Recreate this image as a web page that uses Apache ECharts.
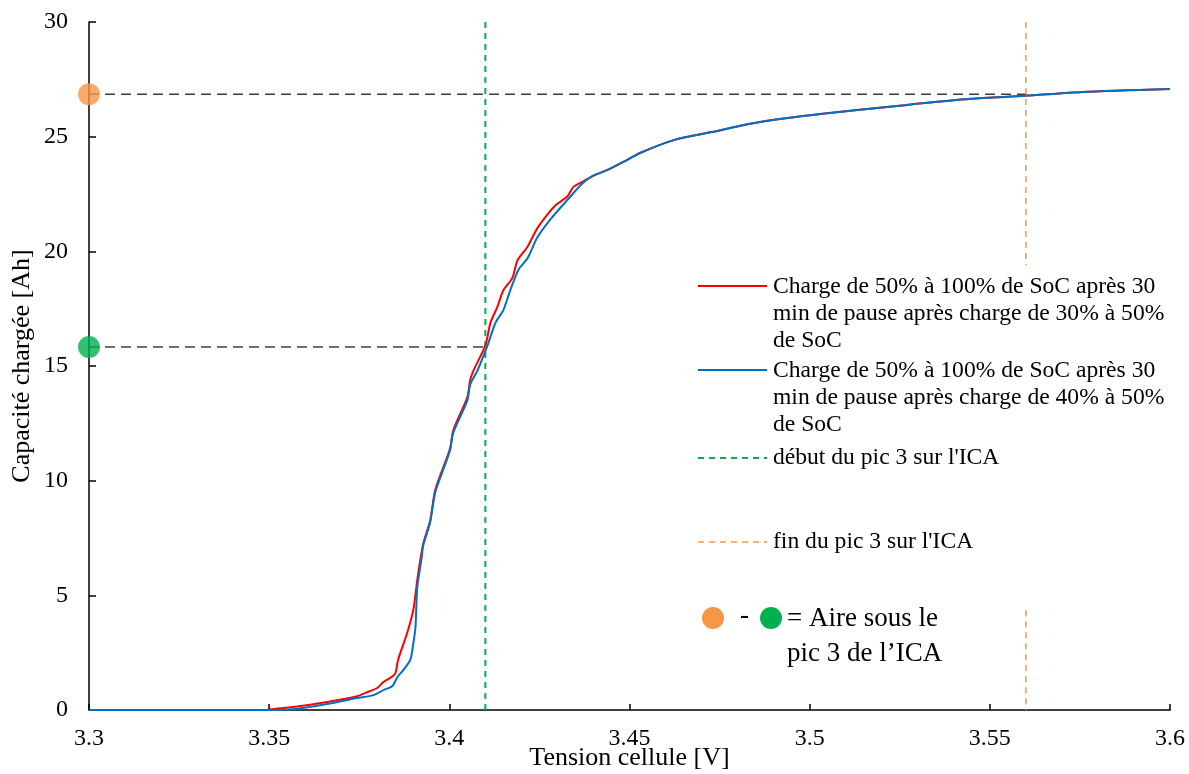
<!DOCTYPE html>
<html>
<head>
<meta charset="utf-8">
<script src="https://cdn.jsdelivr.net/npm/echarts@6/dist/echarts.min.js"></script>
<style>html,body{margin:0;padding:0;background:#fff}#c{width:1189px;height:774px}</style>
</head>
<body>
<div id="c"></div>
<script>
// Data
const redV = [3.3, 3.35, 3.3503, 3.3567, 3.3661, 3.3744, 3.3772, 3.38, 3.3817, 3.3836, 3.385, 3.3858, 3.3883, 3.39, 3.3911, 3.3919, 3.3928, 3.3947, 3.3961, 3.3994, 3.4003, 3.4011, 3.405, 3.4058, 3.4067, 3.41, 3.4114, 3.4133, 3.415, 3.4175, 3.4189, 3.4217, 3.4244, 3.4272, 3.4294, 3.4328, 3.4344, 3.4372, 3.44, 3.4439, 3.4483, 3.4531, 3.4625, 3.4728, 3.4831, 3.4933, 3.5036, 3.5242, 3.5447, 3.5597, 3.5756, 3.6];
const redQ = [0, 0, 0.03, 0.13, 0.35, 0.6, 0.78, 0.96, 1.22, 1.4, 1.6, 2.2, 3.36, 4.36, 5.67, 6.5, 7.28, 8.28, 9.6, 11.03, 11.47, 12.2, 13.65, 14.4, 14.8, 15.9, 16.88, 17.57, 18.3, 18.84, 19.6, 20.2, 21.0, 21.6, 22.0, 22.4, 22.8, 23.05, 23.3, 23.55, 23.9, 24.3, 24.86, 25.2, 25.55, 25.8, 26.0, 26.34, 26.65, 26.78, 26.95, 27.08];
const blueV = [3.3, 3.35, 3.3567, 3.3661, 3.3744, 3.3789, 3.3817, 3.3842, 3.3856, 3.3872, 3.3892, 3.39, 3.3906, 3.3911, 3.3922, 3.3928, 3.3947, 3.3961, 3.3994, 3.4003, 3.4011, 3.405, 3.4058, 3.4078, 3.4106, 3.4128, 3.415, 3.4169, 3.4192, 3.4217, 3.4244, 3.4281, 3.4328, 3.4372, 3.44, 3.4439, 3.4483, 3.4531, 3.4625, 3.4728, 3.4831, 3.4933, 3.5036, 3.5242, 3.5447, 3.5597, 3.5756, 3.6];
const blueQ = [0, 0, 0.03, 0.26, 0.52, 0.65, 0.87, 1.05, 1.44, 1.74, 2.2, 2.9, 3.6, 5.36, 6.5, 7.2, 8.2, 9.5, 10.95, 11.4, 12.1, 13.5, 14.2, 14.8, 15.9, 16.88, 17.44, 18.3, 19.2, 19.7, 20.6, 21.4, 22.25, 23.0, 23.3, 23.55, 23.9, 24.3, 24.86, 25.2, 25.55, 25.8, 26.0, 26.34, 26.65, 26.78, 26.95, 27.08];
const vStart = 3.41;   // début du pic 3
const vEnd = 3.56;     // fin du pic 3
const qStart = 15.83;  // capacité au début du pic
const qEnd = 26.85;    // capacité à la fin du pic
const orangeGapTop = 19.4, orangeGapBottom = 4.35;
const seriesNames = [
  "Charge de 50% à 100% de SoC après 30\nmin de pause après charge de 30% à 50%\nde SoC",
  "Charge de 50% à 100% de SoC après 30\nmin de pause après charge de 40% à 50%\nde SoC",
  "début du pic 3 sur l'ICA",
  "fin du pic 3 sur l'ICA"
];
const xTitle = "Tension cellule [V]";
const yTitle = "Capacité chargée [Ah]";

const RED = '#FF0000', BLUE = '#0070C0', GREEN = '#00B050', ORANGE = '#F79646';
const zip = (a, b) => a.map((v, i) => [v, b[i]]);
const serif = '"Liberation Serif", "Times New Roman", serif';

const chart = echarts.init(document.getElementById('c'), null, {renderer: 'canvas'});
const lx = 698, ltx = 773;
const txt = (x, y, t) => ({type: 'text', left: x, top: y, style: {text: t, font: '23.6px ' + serif, fill: '#000', lineHeight: 27}});
chart.setOption({
  animation: false,
  grid: {left: 89, right: 19, top: 22, bottom: 64, containLabel: false, outerBoundsMode: 'none'},
  xAxis: {
    type: 'value', min: 3.3, max: 3.6, interval: 0.05,
    name: xTitle, nameLocation: 'middle', nameGap: 35, nameMoveOverlap: false,
    nameTextStyle: {fontFamily: serif, fontSize: 26, color: '#000'},
    axisLine: {lineStyle: {color: '#404040', width: 2}},
    axisTick: {inside: true, length: 6, lineStyle: {color: '#000', width: 1.5}},
    axisLabel: {fontFamily: serif, fontSize: 24, color: '#000', margin: 17,
      formatter: v => String(parseFloat(v.toFixed(2)))},
    splitLine: {show: false}
  },
  yAxis: {
    type: 'value', min: 0, max: 30, interval: 5,
    name: yTitle, nameLocation: 'middle', nameGap: 54, nameMoveOverlap: false,
    nameTextStyle: {fontFamily: serif, fontSize: 26, color: '#000'},
    axisLine: {show: true, lineStyle: {color: '#000', width: 1.5}},
    axisTick: {show: true, inside: true, length: 7, lineStyle: {color: '#000', width: 1.5}},
    axisLabel: {fontFamily: serif, fontSize: 24, color: '#000', margin: 21},
    splitLine: {show: false}
  },
  series: [
    {type: 'line', name: 'hEnd', data: [[3.3, qEnd], [vEnd, qEnd]], symbol: 'none', silent: true,
      lineStyle: {color: '#404040', width: 1.5, type: [10, 6]}},
    {type: 'line', name: 'hStart', data: [[3.3, qStart], [vStart, qStart]], symbol: 'none', silent: true,
      lineStyle: {color: '#404040', width: 1.5, type: [10, 6]}},
    {type: 'line', name: seriesNames[2], data: [[vStart, 0], [vStart, 30]], symbol: 'none',
      lineStyle: {color: GREEN, width: 2, type: [6, 5]}},
    {type: 'line', name: seriesNames[3], data: [[vEnd, 30], [vEnd, orangeGapTop], null, [vEnd, orangeGapBottom], [vEnd, 0]],
      symbol: 'none', connectNulls: false,
      lineStyle: {color: ORANGE, width: 1.5, type: [6, 5]}},
    {type: 'line', name: seriesNames[0], data: zip(redV, redQ), symbol: 'none', smooth: 0.25,
      lineStyle: {color: RED, width: 2}},
    {type: 'line', name: seriesNames[1], data: zip(blueV, blueQ), symbol: 'none', smooth: 0.25,
      lineStyle: {color: BLUE, width: 2}},
    {type: 'scatter', name: 'points', data: [
        {value: [3.3, qEnd], itemStyle: {color: ORANGE}},
        {value: [3.3, qStart], itemStyle: {color: GREEN}}],
      symbolSize: 22, clip: false, z: 10}
  ],
  graphic: [
    {type: 'line', shape: {x1: lx, y1: 286, x2: 767, y2: 286}, style: {stroke: RED, lineWidth: 2}},
    txt(ltx, 273, seriesNames[0]),
    {type: 'line', shape: {x1: lx, y1: 370, x2: 767, y2: 370}, style: {stroke: BLUE, lineWidth: 2}},
    txt(ltx, 357, seriesNames[1]),
    {type: 'line', shape: {x1: lx, y1: 458, x2: 767, y2: 458}, style: {stroke: GREEN, lineWidth: 2, lineDash: [6, 5]}},
    txt(ltx, 444, seriesNames[2]),
    {type: 'line', shape: {x1: lx, y1: 542, x2: 767, y2: 542}, style: {stroke: ORANGE, lineWidth: 1.5, lineDash: [6, 5]}},
    txt(ltx, 528, seriesNames[3]),
    {type: 'circle', shape: {cx: 713, cy: 618, r: 11}, style: {fill: ORANGE}},
    {type: 'text', left: 740, top: 602, style: {text: '-', font: '27px ' + serif, fill: '#000'}},
    {type: 'circle', shape: {cx: 771, cy: 618, r: 11}, style: {fill: GREEN}},
    {type: 'text', left: 787, top: 601, style: {text: '= Aire sous le\npic 3 de l\u2019ICA', font: '27px ' + serif, fill: '#000', lineHeight: 35}}
  ]
});
</script>
</body>
</html>
